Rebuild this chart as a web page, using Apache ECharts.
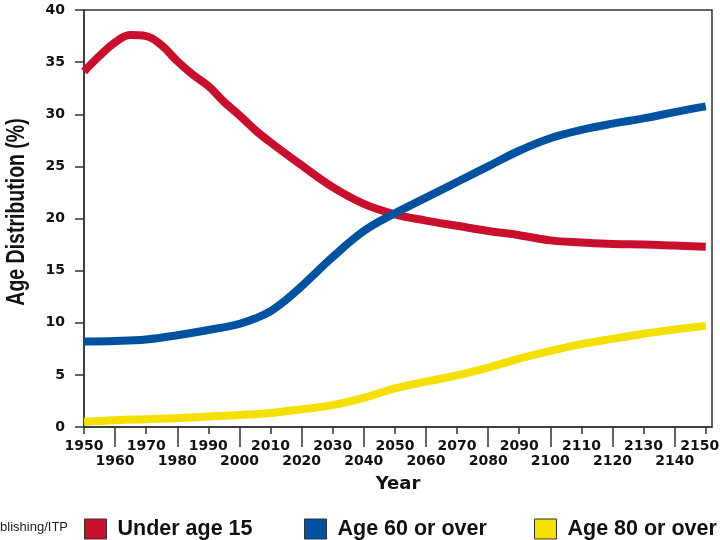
<!DOCTYPE html>
<html>
<head>
<meta charset="utf-8">
<script src="https://cdn.jsdelivr.net/npm/echarts@6/dist/echarts.min.js"></script>
<style>html,body{margin:0;padding:0;background:#fff;}#c{width:720px;height:540px;}</style>
</head>
<body>
<div id="c"></div>
<script>
// ---- data ----
var under15Years = [1950,1955,1960,1965,1970,1975,1980,1985,1990,1995,2000,2005,2010,2020,2030,2040,2050,2060,2070,2080,2090,2100,2110,2120,2130,2140,2150];
var under15 =      [34.1,35.6,36.9,37.6,37.5,36.6,35.1,33.8,32.7,31.2,29.9,28.5,27.3,25.1,23.0,21.4,20.4,19.8,19.3,18.8,18.4,17.9,17.7,17.55,17.5,17.4,17.3];
var over60Years = [1950,1960,1970,1980,1990,2000,2005,2010,2015,2020,2030,2040,2050,2060,2070,2080,2090,2100,2110,2120,2130,2140,2150];
var over60 =      [8.2,8.25,8.4,8.8,9.3,9.9,10.4,11.1,12.2,13.5,16.3,18.8,20.5,22.0,23.5,25.0,26.5,27.7,28.5,29.1,29.6,30.2,30.75];
var over80Years = [1950,1960,1970,1980,1990,2000,2010,2020,2030,2040,2050,2060,2070,2080,2090,2100,2110,2120,2130,2140,2150];
var over80 =      [0.5,0.65,0.75,0.85,1.0,1.15,1.35,1.7,2.1,2.8,3.7,4.35,4.95,5.7,6.55,7.3,7.95,8.45,8.95,9.35,9.7];
var seriesNames = ['Under age 15', 'Age 60 or over', 'Age 80 or over'];
var topRowYears = [1950,1970,1990,2010,2030,2050,2070,2090,2110,2130,2150];
var bottomRowYears = [1960,1980,2000,2020,2040,2060,2080,2100,2120,2140];
var yAxisTitle = 'Age Distribution (%)';
var xAxisTitle = 'Year';
var creditText = 'Brooks/Cole Publishing/ITP';

function pairs(xs, ys){ return xs.map(function(x,i){return [x, ys[i]];}); }

var numFont = 'DejaVu Sans';
var txtFont = 'Liberation Sans';
var colors = ['#C8102E', '#0052A0', '#F4E000'];
var lastTop = topRowYears[topRowYears.length - 1];

var chart = echarts.init(document.getElementById('c'));
function legendAt(left, name){
  return {
    left: left, top: 513, orient: 'horizontal', selectedMode: false,
    icon: 'rect', itemWidth: 22, itemHeight: 20,
    itemStyle: {borderColor: '#333', borderWidth: 1},
    textStyle: {fontFamily: txtFont, fontWeight: 'bold', fontSize: 21.5, color: '#111', padding: [0,0,0,6]},
    data: [name]
  };
}
var labelStyle = {fontFamily: numFont, fontWeight: 'bold', fontSize: 14, color: '#111'};
chart.setOption({
  animation: false,
  backgroundColor: '#fff',
  grid: {left: 84, top: 10, right: 8, bottom: 113, show: true, borderColor: '#333', borderWidth: 1.5, backgroundColor: 'transparent', containLabel: false, outerBoundsMode: 'none'},
  legend: [legendAt(79, seriesNames[0]), legendAt(299, seriesNames[1]), legendAt(529, seriesNames[2])],
  xAxis: [
    {
      type: 'value', min: 1950, max: 2152, position: 'bottom',
      axisLine: {show: true, lineStyle: {color: '#333', width: 1.5}},
      axisTick: {show: true, length: 7, customValues: topRowYears, lineStyle: {color: '#333', width: 1.5}},
      axisLabel: {show: true, margin: 12, customValues: topRowYears, fontFamily: numFont, fontWeight: 'bold', fontSize: 14, color: '#111',
        formatter: function(v){ return v === lastTop ? '{r|' + v + '}' : String(v); },
        rich: {r: {fontFamily: numFont, fontWeight: 'bold', fontSize: 14, color: '#111', padding: [0, 12, 0, 0]}}},
      splitLine: {show: false}
    },
    {
      type: 'value', min: 1950, max: 2152, position: 'bottom',
      name: xAxisTitle, nameLocation: 'middle', nameGap: 48,
      nameTextStyle: {fontFamily: numFont, fontWeight: 'bold', fontSize: 18, color: '#111'},
      axisLine: {show: false},
      axisTick: {show: true, length: 20, customValues: bottomRowYears, lineStyle: {color: '#333', width: 1.5}},
      axisLabel: {show: true, margin: 27, customValues: bottomRowYears, fontFamily: numFont, fontWeight: 'bold', fontSize: 14, color: '#111', formatter: function(v){return String(v);}},
      splitLine: {show: false}
    }
  ],
  yAxis: {
    type: 'value', min: 0, max: 40, interval: 5,
    axisLine: {show: true, lineStyle: {color: '#333', width: 1.5}},
    axisTick: {show: true, length: 9, lineStyle: {color: '#333', width: 1.5}},
    axisLabel: {margin: 19, fontFamily: numFont, fontWeight: 'bold', fontSize: 14, color: '#111'},
    splitLine: {show: false}
  },
  series: [
    {name: seriesNames[0], type: 'line', xAxisIndex: 0, data: pairs(under15Years, under15), smooth: 0.4, showSymbol: false, lineStyle: {width: 8, color: colors[0]}, itemStyle: {color: colors[0]}},
    {name: seriesNames[1], type: 'line', xAxisIndex: 0, data: pairs(over60Years, over60), smooth: 0.4, showSymbol: false, lineStyle: {width: 8, color: colors[1]}, itemStyle: {color: colors[1]}},
    {name: seriesNames[2], type: 'line', xAxisIndex: 0, data: pairs(over80Years, over80), smooth: 0.4, showSymbol: false, lineStyle: {width: 8, color: colors[2]}, itemStyle: {color: colors[2]}}
  ],
  graphic: [
    {type: 'text', x: 17, y: 212, rotation: Math.PI / 2, scaleX: 0.78, scaleY: 1,
     style: {text: yAxisTitle, fontFamily: txtFont, fontWeight: 'bold', fontSize: 25, fill: '#111', align: 'center', verticalAlign: 'middle'}},
    {type: 'text', x: 68, y: 527,
     style: {text: creditText, fontFamily: txtFont, fontSize: 13, fill: '#222', align: 'right', verticalAlign: 'middle'}}
  ]
});
</script>
</body>
</html>
